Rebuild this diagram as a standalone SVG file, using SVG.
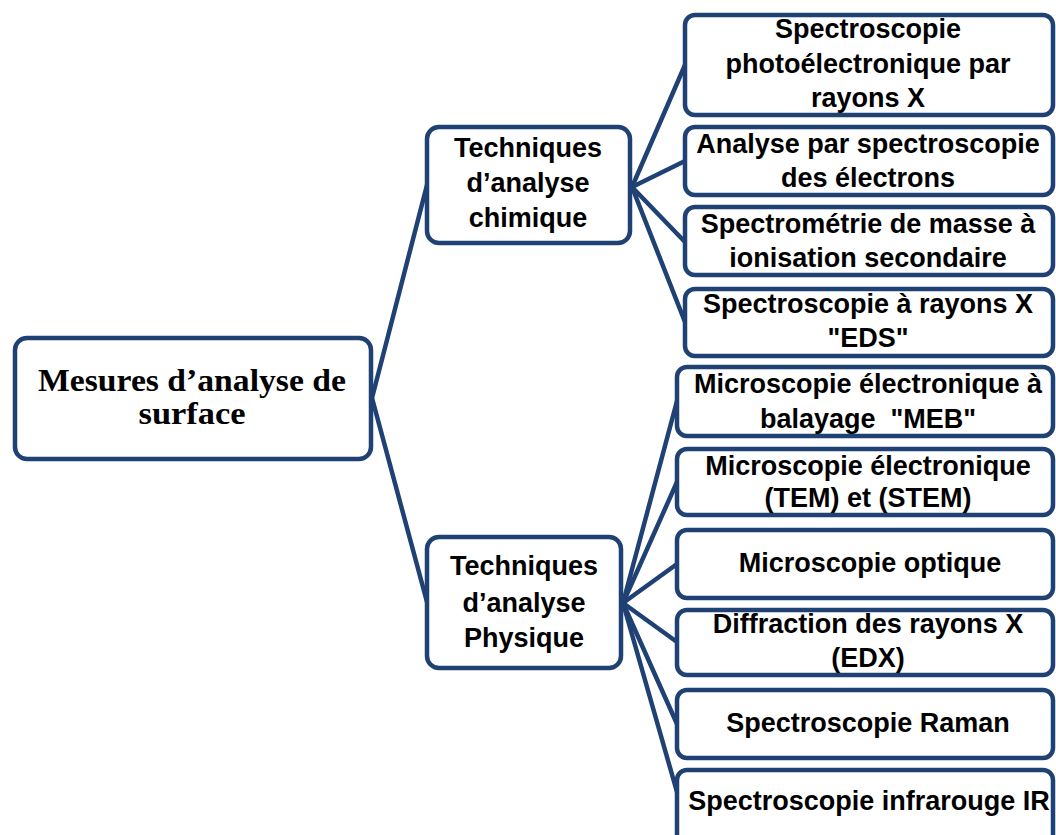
<svg xmlns="http://www.w3.org/2000/svg" width="1056" height="835" viewBox="0 0 1056 835">
<style>
.box{fill:#fff;stroke:#1F4173;stroke-width:4.5}
.ln{stroke:#1F4173;stroke-width:4.5;fill:none;stroke-linecap:round}
.t{font-family:"Liberation Sans",Arial,sans-serif;font-weight:bold;font-size:27px;fill:#000;text-anchor:middle}
.s{font-family:"Liberation Serif","Times New Roman",serif;font-weight:bold;font-size:32px;fill:#000;text-anchor:middle}
</style>
<rect width="1056" height="835" fill="#fff"/>
<g id="connectors">
<line class="ln" x1="372" y1="398" x2="427" y2="185"/>
<line class="ln" x1="372" y1="398" x2="427" y2="602"/>
<line class="ln" x1="632" y1="187" x2="685" y2="65"/>
<line class="ln" x1="632" y1="187" x2="685" y2="161"/>
<line class="ln" x1="632" y1="187" x2="685" y2="242"/>
<line class="ln" x1="632" y1="187" x2="685" y2="322"/>
<line class="ln" x1="623" y1="603" x2="677" y2="401"/>
<line class="ln" x1="623" y1="603" x2="677" y2="482"/>
<line class="ln" x1="623" y1="603" x2="677" y2="564"/>
<line class="ln" x1="623" y1="603" x2="677" y2="642"/>
<line class="ln" x1="623" y1="603" x2="677" y2="724"/>
<line class="ln" x1="623" y1="603" x2="677" y2="792"/>
</g>
<g id="root">
<rect class="box" x="15" y="338" width="356" height="121" rx="12"/>
<text class="s" x="192" y="391" textLength="308" lengthAdjust="spacingAndGlyphs">Mesures d’analyse de</text>
<text class="s" x="192" y="424" textLength="107" lengthAdjust="spacingAndGlyphs">surface</text>
</g>
<g id="chimique">
<rect class="box" x="427" y="127" width="203" height="116" rx="12"/>
<text class="t" x="528" y="157">Techniques</text>
<text class="t" x="528" y="192">d’analyse</text>
<text class="t" x="528" y="227">chimique</text>
</g>
<g id="physique">
<rect class="box" x="427" y="537" width="194" height="131" rx="12"/>
<text class="t" x="524" y="575">Techniques</text>
<text class="t" x="524" y="612">d’analyse</text>
<text class="t" x="524" y="647">Physique</text>
</g>
<g id="xps">
<rect class="box" x="685" y="15" width="368" height="100" rx="10"/>
<text class="t" x="868" y="38">Spectroscopie</text>
<text class="t" x="868" y="73">photoélectronique par</text>
<text class="t" x="868" y="107">rayons X</text>
</g>
<g id="aes">
<rect class="box" x="685" y="127" width="368" height="68" rx="10"/>
<text class="t" x="868" y="153">Analyse par spectroscopie</text>
<text class="t" x="868" y="187">des électrons</text>
</g>
<g id="sims">
<rect class="box" x="685" y="207" width="368" height="68" rx="10"/>
<text class="t" x="868" y="233">Spectrométrie de masse à</text>
<text class="t" x="868" y="267">ionisation secondaire</text>
</g>
<g id="eds">
<rect class="box" x="685" y="289" width="368" height="67" rx="10"/>
<text class="t" x="868" y="313">Spectroscopie à rayons X</text>
<text class="t" x="868" y="347">"EDS"</text>
</g>
<g id="meb">
<rect class="box" x="677" y="367" width="376" height="69" rx="10"/>
<text class="t" x="868" y="393">Microscopie électronique à</text>
<text class="t" x="868" y="428" xml:space="preserve">balayage  "MEB"</text>
</g>
<g id="tem">
<rect class="box" x="677" y="449" width="376" height="66" rx="10"/>
<text class="t" x="868" y="475">Microscopie électronique</text>
<text class="t" x="868" y="507">(TEM) et (STEM)</text>
</g>
<g id="optique">
<rect class="box" x="677" y="530" width="376" height="68" rx="10"/>
<text class="t" x="870" y="572">Microscopie optique</text>
</g>
<g id="drx">
<rect class="box" x="677" y="610" width="376" height="65" rx="10"/>
<text class="t" x="868" y="633">Diffraction des rayons X</text>
<text class="t" x="868" y="667">(EDX)</text>
</g>
<g id="raman">
<rect class="box" x="677" y="690" width="376" height="68" rx="10"/>
<text class="t" x="868" y="732">Spectroscopie Raman</text>
</g>
<g id="ir">
<rect class="box" x="677" y="770" width="376" height="80" rx="10"/>
<text class="t" x="869" y="810">Spectroscopie infrarouge IR</text>
</g>
</svg>
